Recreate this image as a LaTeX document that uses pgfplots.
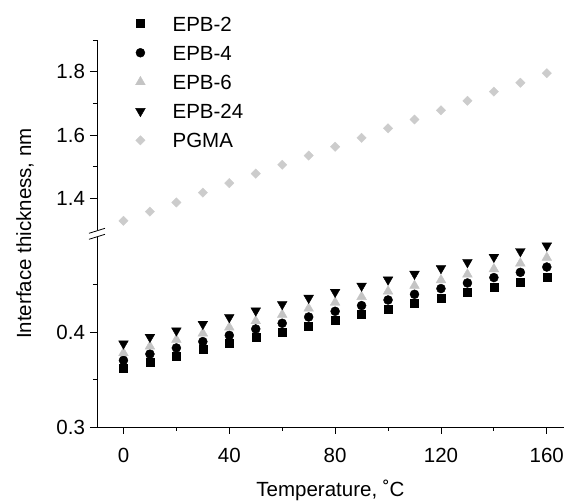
\documentclass[border=0pt]{standalone}
\usepackage{pgfplots}
\pgfplotsset{compat=1.18}
\usepackage{fontspec}
\setmainfont{Liberation Sans}
\definecolor{lg}{RGB}{204,204,204}
\definecolor{tg}{RGB}{196,196,196}

\pgfplotstableread{
T EPB2 EPB4 EPB6 EPB24
0 0.3615 0.3702 0.3779 0.3878
10 0.3684 0.3768 0.3849 0.3947
20 0.3747 0.3832 0.3920 0.4015
30 0.3815 0.3899 0.3986 0.4084
40 0.3878 0.3965 0.4049 0.4155
50 0.3941 0.4032 0.4116 0.4225
60 0.4000 0.4092 0.4183 0.4292
70 0.4063 0.4158 0.4248 0.4358
80 0.4126 0.4218 0.4311 0.4421
90 0.4183 0.4278 0.4371 0.4486
100 0.4242 0.4337 0.4428 0.4551
110 0.4299 0.4397 0.4488 0.4611
120 0.4355 0.4457 0.4547 0.4671
130 0.4415 0.4516 0.4607 0.4734
140 0.4471 0.4573 0.4663 0.4789
150 0.4526 0.4628 0.4723 0.4849
160 0.4579 0.4684 0.4783 0.4909
}\lowdata

\pgfplotstableread{
T PGMA
0 1.329
10 1.358
20 1.387
30 1.418
40 1.448
50 1.478
60 1.506
70 1.535
80 1.563
90 1.591
100 1.621
110 1.649
120 1.678
130 1.708
140 1.737
150 1.765
160 1.795
}\updata

\pgfplotsset{
  common/.style={
    scale only axis, width=467pt, height=190pt,
    xmin=-10, xmax=166.5,
    /pgf/number format/assume math mode=true,
    clip=false,
  },
  finish/.style={
    axis line style={-, line width=0.8pt},
    tick align=outside, major tick length=7pt, minor tick length=4pt,
    every tick/.style={black, line width=0.8pt},
    yticklabel style={xshift=-1.5pt, /pgf/number format/.cd, fixed, precision=1, fixed zerofill},
    xticklabel style={yshift=-11pt},
  },
  sq/.style={only marks, mark=square*, mark size=4pt, mark options={draw=black, fill=black}},
  ci/.style={only marks, mark=*, mark size=4.5pt, mark options={draw=black, fill=black}},
  tu/.style={only marks, mark=triangle*, mark size=5.6pt, mark options={draw=tg, fill=tg}},
  td/.style={only marks, mark=triangle*, mark size=5.6pt, mark options={draw=black, fill=black, rotate=180}},
  di/.style={only marks, mark=square*, mark size=3.3pt, mark options={draw=lg, fill=lg, rotate=45}},
}

\begin{document}
\begin{tikzpicture}[font=\fontsize{20.5}{24}\selectfont]
\begin{axis}[common,
  axis x line=bottom, axis y line=left,
  finish,
  ymin=0.3, ymax=0.5,
  ytick={0.3,0.4}, minor ytick={0.35,0.45},
  xtick={0,40,80,120,160}, minor xtick={20,60,100,140},
  xlabel={Temperature, ˚C},
  ylabel={Interface thickness, nm},
  xlabel style={at={(rel axis cs:0.5,-0.336)}, anchor=center},
  ylabel style={at={(rel axis cs:-0.154,1.018)}, anchor=center},
]
\addplot[sq] table[x=T, y=EPB2] {\lowdata};
\addplot[ci] table[x=T, y=EPB4] {\lowdata};
\addplot[tu] table[x=T, y=EPB6] {\lowdata};
\addplot[td] table[x=T, y=EPB24] {\lowdata};
\end{axis}

\begin{axis}[common, at={(0pt,197pt)},
  axis x line=none, axis y line=left,
  finish,
  ymin=1.3, ymax=1.9,
  ytick={1.4,1.6,1.8}, minor ytick={1.5,1.7,1.9},
  legend image code/.code={\draw[#1] plot coordinates {(0pt,0pt)}; \path (-10pt,0pt) (32pt,0pt);},
  legend style={at={(rel axis cs:0.0707,1.127)}, anchor=north west, draw=none, fill=none,
    row sep=14.2pt, inner sep=0pt,
    nodes={inner sep=0pt, text height=15pt, text depth=0pt}},
  legend cell align=left,
]
\addlegendimage{sq}
\addlegendimage{ci}
\addlegendimage{tu}
\addlegendimage{td}
\addplot[di] table[x=T, y=PGMA] {\updata};
\legend{EPB-2, EPB-4, EPB-6, EPB-24, PGMA}
\end{axis}

\draw[line width=0.8pt] (-8pt,193.7pt) -- (8pt,198.7pt);
\draw[line width=0.8pt] (-8pt,187.7pt) -- (8pt,192.7pt);

\pgfresetboundingbox
\path[use as bounding box] (-97pt,-75pt) rectangle (467pt,427pt);
\end{tikzpicture}
\end{document}
